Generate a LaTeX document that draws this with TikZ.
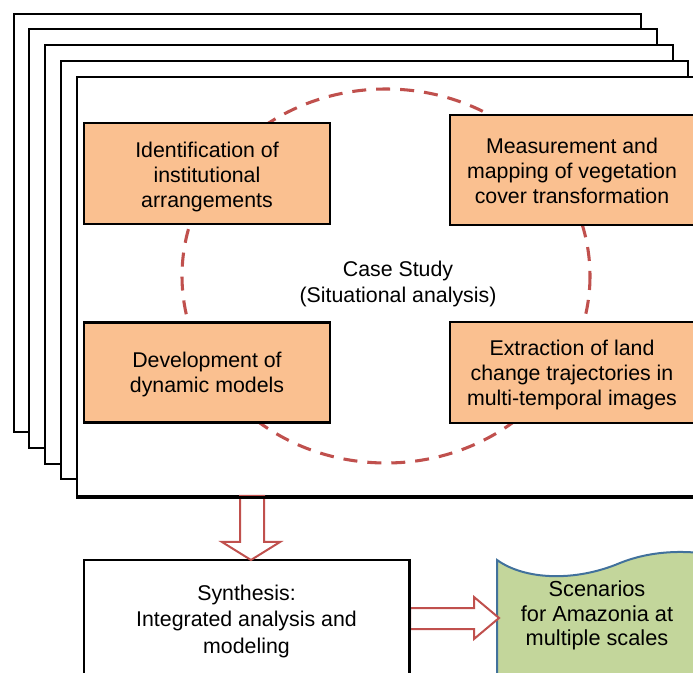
\documentclass[tikz,border=0pt]{standalone}
\usepackage{fontspec}
\setmainfont{Liberation Sans}
\usetikzlibrary{calc}
\definecolor{boxorange}{HTML}{FAC090}
\definecolor{dashred}{HTML}{C0504D}
\definecolor{scengreen}{HTML}{C3D69B}
\definecolor{scenblue}{HTML}{41719C}
\begin{document}
\begin{tikzpicture}[x=0.75pt,y=-0.75pt,
  page/.style={draw=black,fill=white,line width=1.8pt},
  taskbox/.style={draw=black,fill=boxorange,line width=2pt,inner sep=0pt},
  tasktext/.style={align=center,inner sep=0pt,font=\fontsize{16}{18.75}\selectfont},
  plainbox/.style={draw=black,fill=white,line width=1.7pt,align=center,inner sep=0pt,
    font=\fontsize{16}{19.9}\selectfont},
  blockarrow/.style={draw=dashred,fill=white,line width=1.5pt,line join=miter},
  txt/.style={align=center,inner sep=0pt,font=\fontsize{16}{19.5}\selectfont}]
\useasboundingbox (0,0) rectangle (693,673);
\clip (0,0) rectangle (693,673);

% stacked pages
\node[page,minimum width=470.25pt,minimum height=313.5pt,anchor=north west] (p1) at (13,13) {};
\node[page,minimum width=471pt,minimum height=314.25pt,anchor=north west] (p2) at (28,28) {};
\node[page,minimum width=471pt,minimum height=314.25pt,anchor=north west] (p3) at (44,44) {};
\node[page,minimum width=470.25pt,minimum height=313.5pt,anchor=north west] (p4) at (60,60) {};
\node[page,minimum width=471.75pt,minimum height=314.25pt,anchor=north west] (front) at (76,76) {};

% dashed ellipse
\draw[dashred,line width=2.3pt,dash pattern=on 10.5pt off 7.5pt] (386,276) ellipse [x radius=204, y radius=187];

% task boxes
\node[taskbox,minimum width=184.5pt,minimum height=75.75pt] (ident) at (207,173.5) {};
\node[tasktext] (identtext) at ($(ident)+(0,3)$) {Identification of\\institutional\\arrangements};
\node[taskbox,minimum width=183pt,minimum height=82.5pt] (meas) at (572,170) {};
\node[tasktext] (meastext) at ($(meas)+(0,1)$) {Measurement and\\mapping of vegetation\\cover transformation};
\node[taskbox,minimum width=184.5pt,minimum height=75pt] (dyn) at (207,372.5) {};
\node[tasktext] (dyntext) at ($(dyn)+(0,2)$) {Development of\\dynamic models};
\node[taskbox,minimum width=183pt,minimum height=75.75pt] (extr) at (572,372.5) {};
\node[tasktext] (extrtext) at ($(extr)+(0,2)$) {Extraction of land\\change trajectories in\\multi-temporal images};

\node[txt] (case) at (398,283.5) {Case Study\\(Situational analysis)};

% synthesis box
\node[plainbox,minimum width=243.75pt,minimum height=91.5pt,anchor=north] (synth) at (246.5,559)
  {Synthesis:\\Integrated analysis and\\modeling};

% down block arrow
\coordinate (dtop) at (251,496);
\coordinate (dtip) at (251,560);
\draw[blockarrow] ($(dtop)+(-11,0)$) -- ($(dtop)+(-11,46)$) -- ($(dtop)+(-29,46)$) -- (dtip)
  -- ($(dtop)+(29,46)$) -- ($(dtop)+(13,46)$) -- ($(dtop)+(13,0)$) -- cycle;
\draw[black,line width=1.8pt] (front.south west) -- (front.south east);

% scenarios shape
\draw[draw=scenblue,fill=scengreen,line width=1.5pt]
  (497,690) -- (497,560) .. controls (525,580) and (575,582) .. (620,563)
  .. controls (650,551) and (685,549) .. (720,556) -- (720,690) -- cycle;
\node[txt,font=\fontsize{16.3}{18.4}\selectfont] (scen) at (597,615.5) {Scenarios\\for Amazonia at\\multiple scales};

% right block arrow
\coordinate (rstart) at (410,618);
\coordinate (rtip) at (499,618);
\draw[blockarrow] ($(rstart)+(0,-10)$) -- ($(rstart)+(64,-10)$) -- ($(rstart)+(64,-21)$) -- (rtip)
  -- ($(rstart)+(64,21)$) -- ($(rstart)+(64,11)$) -- ($(rstart)+(0,11)$) -- cycle;
\draw[black,line width=1.7pt] (synth.north east) -- (synth.south east);
\end{tikzpicture}
\end{document}
